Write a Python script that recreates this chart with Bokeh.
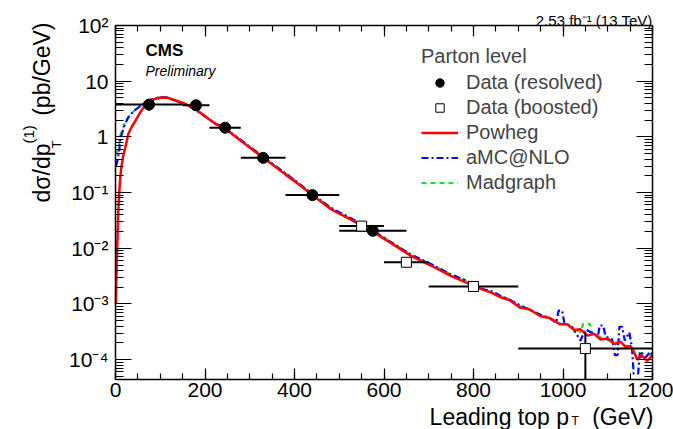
import math
from bokeh.plotting import figure
from bokeh.models import (Range1d, LinearAxis, LogAxis, SingleIntervalTicker, LogTicker,
                          CustomJSTickFormatter, Label, Legend, LegendItem)
from bokeh.embed import file_html
from bokeh.resources import INLINE

# ---------------- data ----------------
res_lo = [0, 150, 210, 280, 380, 500]
res_hi = [150, 210, 280, 380, 500, 650]
res_x = [75, 180, 245, 330, 440, 575]
res_y = [3.8, 3.7, 1.46, 0.42, 0.090, 0.0206]
res_err = [0.85, 0.25, 0.10, 0.03, 0.007, 0.0017]

boo_lo = [500, 600, 700, 900]
boo_hi = [600, 700, 900, 1200]
boo_x = [550, 650, 800, 1050]
boo_y = [0.025, 0.0056, 0.00206, 1.58e-4]
boo_err = [0.003, 0.0007, 0.00025, 1.5e-4]

pt_powheg = [1, 2, 4, 7, 10, 13, 17, 22, 29, 37,
             45, 58, 70, 80, 92, 103, 118, 134, 150, 163,
             180, 192, 210, 224, 244, 262, 280, 305, 330, 355,
             380, 410, 440, 480, 525, 570, 615, 659, 705, 749,
             785, 816, 840, 860, 880, 905, 925, 950, 970, 994,
             1010, 1025, 1039, 1055, 1070, 1084, 1100, 1115, 1128, 1140,
             1151, 1160, 1166, 1175, 1188, 1200]
xs_powheg = [0.001, 0.003, 0.012, 0.064, 0.16, 0.28, 0.45, 0.65, 1.15, 1.55,
             1.97, 3.0, 3.9, 4.5, 4.9, 5.1, 5.0, 4.5, 4.1, 3.66,
             3.1, 2.63, 2.05, 1.7, 1.42, 1.1, 0.85, 0.6, 0.42, 0.3,
             0.21, 0.14, 0.09, 0.051, 0.033, 0.021, 0.0125, 0.0074, 0.0049, 0.0032,
             0.0024, 0.00187, 0.0016, 0.00132, 0.00118, 0.00085, 0.0008, 0.0006, 0.00056, 0.00043,
             0.00043, 0.00034, 0.00035, 0.00027, 0.00029, 0.00023, 0.00024, 0.00019, 0.00021, 0.00017,
             0.000175, 0.00013, 0.0001, 0.00012, 0.000095, 0.00012]

pt_amc = [1, 4, 8, 11, 15, 20, 28, 37, 45, 58,
          70, 80, 92, 103, 118, 134, 150, 163, 180, 192,
          210, 224, 244, 262, 280, 305, 330, 355, 380, 410,
          440, 480, 525, 570, 615, 659, 705, 749, 785, 816,
          840, 860, 880, 905, 925, 950, 970, 985, 990, 998,
          1003, 1020, 1039, 1050, 1065, 1078, 1082, 1090, 1095, 1110,
          1116, 1122, 1126, 1132, 1138, 1148, 1154, 1158, 1168, 1172,
          1185, 1195, 1200]
xs_amc = [0.30, 0.36, 0.55, 0.9, 1.2, 1.6, 2.2, 2.7, 3.1, 3.7,
          4.3, 4.7, 5.0, 5.2, 5.0, 4.5, 4.0, 3.6, 3.0, 2.6,
          2.05, 1.72, 1.45, 1.12, 0.88, 0.62, 0.44, 0.31, 0.22, 0.145,
          0.094, 0.054, 0.035, 0.022, 0.013, 0.0078, 0.0052, 0.0034, 0.0026, 0.0019,
          0.0017, 0.0014, 0.0012, 0.00093, 0.0008, 0.00064, 0.00056, 0.00046, 0.00076, 0.00076,
          0.00046, 0.00039, 0.00022, 0.00035, 0.0003, 0.00026, 0.00041, 0.00041, 0.00026, 0.00023,
          0.00012, 0.00012, 0.00039, 0.00039, 0.00022, 0.00031, 0.00017, 0.000056, 0.000056, 0.00014,
          0.00011, 0.00014, 0.00012]

pt_mg = [1, 4, 8, 11, 15, 20, 28, 37, 45, 58,
         70, 80, 92, 103, 118, 134, 150, 163, 180, 192,
         210, 224, 244, 262, 280, 305, 330, 355, 380, 410,
         440, 480, 525, 570, 615, 659, 705, 749, 785, 816,
         840, 860, 880, 905, 925, 950, 970, 994, 1020, 1040,
         1045, 1060, 1065, 1085, 1110, 1130, 1150, 1165, 1180, 1200]
xs_mg = [0.5, 0.55, 0.75, 1.1, 1.3, 1.7, 2.2, 2.7, 3.1, 3.7,
         4.2, 4.7, 5.0, 5.2, 5.0, 4.5, 4.0, 3.6, 3.0, 2.6,
         2.05, 1.72, 1.45, 1.12, 0.87, 0.61, 0.44, 0.31, 0.22, 0.145,
         0.093, 0.053, 0.034, 0.022, 0.013, 0.0077, 0.0051, 0.0034, 0.0026, 0.0019,
         0.0016, 0.0014, 0.0012, 0.0009, 0.00078, 0.00063, 0.00055, 0.00045, 0.00038, 0.00031,
         0.00044, 0.00044, 0.0003, 0.00025, 0.00021, 0.00019, 0.00016, 0.00013, 0.00013, 0.00012]

x_min, x_max = 0, 1200
y_min, y_max = 4.4e-5, 100

FONT = "Liberation Sans"

# ---------------- layout (pixels) ----------------
W, H = 673, 429
AX_L, AX_R, AX_T, AX_B = 115, 652, 25, 379   # plot-area edges in canvas pixels

# whole canvas is the frame; the plot area sits inside it via the ranges
sx_per = (AX_R - AX_L) / (x_max - x_min)
xr = Range1d(x_min - AX_L / sx_per, x_max + (W - AX_R) / sx_per)
ly0, ly1 = math.log10(y_min), math.log10(y_max)
dec = (AX_B - AX_T) / (ly1 - ly0)
yr = Range1d(10 ** (ly0 - (H - AX_B) / dec), 10 ** (ly1 + AX_T / dec))

p = figure(width=W, height=H, y_axis_type="log", x_range=xr, y_range=yr,
           output_backend="svg", toolbar_location=None, min_border=0,
           background_fill_color="white", border_fill_color="white")
p.xgrid.visible = False
p.ygrid.visible = False
p.outline_line_color = None

xticker = SingleIntervalTicker(interval=200, num_minor_ticks=4)
yformatter = CustomJSTickFormatter(code="""
const e = Math.round(Math.log10(tick));
if (e == 0) return "1";
if (e == 1) return "10";
const sup = {"-":"\u207b","0":"\u2070","1":"\u00b9","2":"\u00b2","3":"\u00b3","4":"\u2074","5":"\u2075","6":"\u2076","7":"\u2077","8":"\u2078","9":"\u2079"};
return "10" + String(e).split("").map(c => sup[c]).join("");
""")
blank = CustomJSTickFormatter(code="return '';")

def style_common(ax, labels):
    ax.axis_line_color = "black"
    ax.axis_line_width = 1.5
    ax.major_tick_out = 0
    ax.minor_tick_out = 0
    ax.major_tick_line_width = 1.2
    ax.minor_tick_line_width = 1.2
    ax.major_label_text_font = FONT
    ax.major_label_text_font_size = "21px"
    ax.major_label_text_color = "black"
    if not labels:
        ax.formatter = blank
        ax.major_label_standoff = 0

def style_x(ax, loc, labels=True):
    ax.ticker = xticker
    ax.fixed_location = loc
    ax.bounds = (x_min, x_max)
    ax.major_tick_in = 11
    ax.minor_tick_in = 6
    ax.major_label_standoff = 3
    style_common(ax, labels)

def style_y(ax, loc, labels=True):
    ax.ticker = LogTicker(num_minor_ticks=10)
    ax.formatter = yformatter
    ax.fixed_location = loc
    ax.bounds = (y_min, y_max)
    ax.major_tick_in = 16
    ax.minor_tick_in = 8
    ax.major_label_standoff = 7
    style_common(ax, labels)

style_x(p.xaxis[0], y_min)
style_y(p.yaxis[0], x_min)
top_ax = LinearAxis()
style_x(top_ax, y_max, labels=False)
p.add_layout(top_ax, "above")
right_ax = LogAxis()
style_y(right_ax, x_max, labels=False)
p.add_layout(right_ax, "right")

# ---------------- curves ----------------
r_mg = p.line(pt_mg, xs_mg, line_color="#22dd22", line_width=2.2, line_dash="5 4")
r_amc = p.line(pt_amc, xs_amc, line_color="#0000ff", line_width=2.2, line_dash="7 3 2 3")
r_pow = p.line(pt_powheg, xs_powheg, line_color="#ff0000", line_width=2.5)

# ---------------- data points ----------------
p.segment(x0=res_lo, x1=res_hi, y0=res_y, y1=res_y, line_color="black", line_width=2)
p.segment(x0=res_x, x1=res_x, y0=[y - e for y, e in zip(res_y, res_err)],
          y1=[y + e for y, e in zip(res_y, res_err)], line_color="black", line_width=2)
p.segment(x0=boo_lo, x1=boo_hi, y0=boo_y, y1=boo_y, line_color="black", line_width=2)
p.segment(x0=boo_x, x1=boo_x, y0=[max(y - e, y_min) for y, e in zip(boo_y, boo_err)],
          y1=[y + e for y, e in zip(boo_y, boo_err)], line_color="black", line_width=2)
r_res = p.scatter(res_x, res_y, marker="circle", size=11, fill_color="black", line_color="black")
r_boo = p.scatter(boo_x, boo_y, marker="square", size=10, fill_color="white",
                  line_color="black", line_width=1)

# ---------------- legend ----------------
legend = Legend(items=[
    LegendItem(label="Data (resolved)", renderers=[r_res]),
    LegendItem(label="Data (boosted)", renderers=[r_boo]),
    LegendItem(label="Powheg", renderers=[r_pow]),
    LegendItem(label="aMC@NLO", renderers=[r_amc]),
    LegendItem(label="Madgraph", renderers=[r_mg]),
], title="Parton level", location=(421, H - 194))
legend.title_text_font = FONT
legend.title_text_font_size = "20px"
legend.title_text_font_style = "normal"
legend.title_standoff = 3
legend.label_text_font = FONT
legend.label_text_font_size = "20px"
legend.label_height = 21
legend.glyph_height = 21
legend.glyph_width = 37
legend.label_standoff = 8
legend.spacing = 2
legend.padding = 0
legend.margin = 0
legend.border_line_color = None
legend.background_fill_alpha = 0
p.add_layout(legend)

# ---------------- texts (canvas pixels, y measured from the bottom) ----------------
def lab(text, x, y, size, align="left", style="normal", angle=0.0):
    p.add_layout(Label(x=x, y=H - y, x_units="screen", y_units="screen", text=text,
                       text_font=FONT, text_font_size=size, text_font_style=style,
                       text_align=align, text_baseline="alphabetic", angle=angle,
                       text_color="black"))

lab("CMS", 145, 50, "17px", style="bold")
lab("Preliminary", 145, 70, "14px", style="italic")
lab("2.53 fb\u207b\u00b9 (13 TeV)", 652, 20, "15px", align="right")
# x axis title
lab("(GeV)", 653, 416, "23px", align="right")
lab("T", 571, 420, "12px")
lab("Leading top p", 568.5, 416, "23px", align="right")
# y axis title (rotated)
a = math.pi / 2
lab("d\u03c3/dp", 41, 202, "23px", angle=a)
lab("T", 56, 148, "13px", angle=a)
lab("(1)", 28, 143, "15px", angle=a)
lab("(pb/GeV)", 41, 22, "23px", align="right", angle=a)

open("out.html", "w").write(file_html(p, INLINE))
